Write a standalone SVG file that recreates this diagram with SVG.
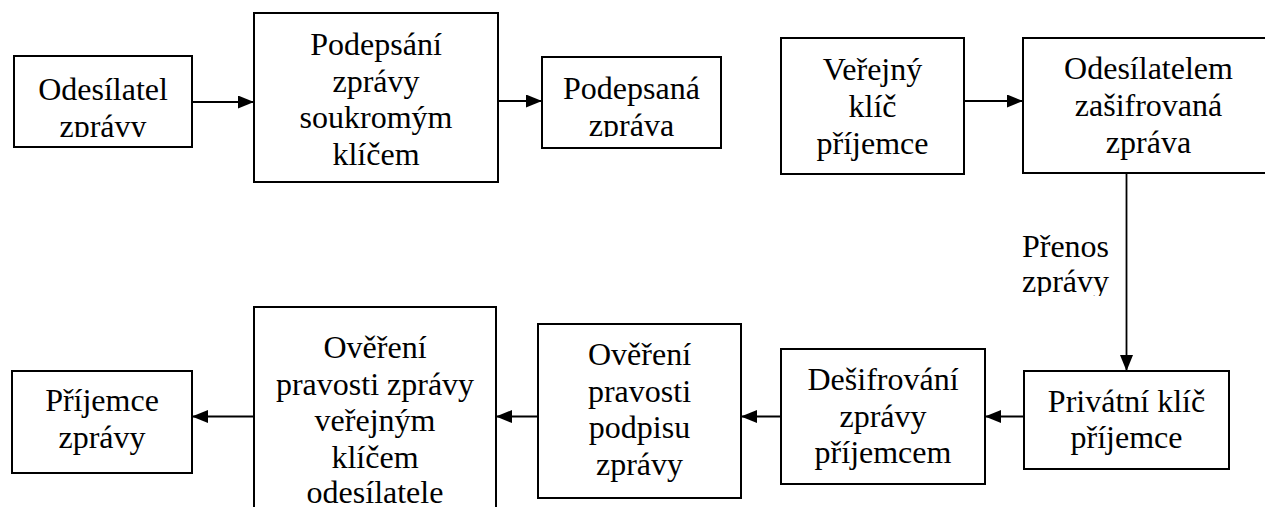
<svg xmlns="http://www.w3.org/2000/svg" width="1265" height="507" viewBox="0 0 1265 507">
<style>
.box{fill:#fff;stroke:#000;stroke-width:2}
.c{fill:none;stroke:#000;stroke-width:1.8}
</style>
<defs>
<marker id="ah" markerUnits="userSpaceOnUse" markerWidth="17" markerHeight="14" refX="16" refY="6.5" orient="auto">
<path d="M0,0 L16,6.5 L0,13 Z" fill="#000"/>
</marker>
<clipPath id="clip1"><rect x="14" y="56" width="178" height="81"/></clipPath>
<clipPath id="clip3"><rect x="542" y="57" width="179" height="80"/></clipPath>
<clipPath id="clipL"><rect x="1000" y="200" width="120" height="96"/></clipPath>
</defs>
<rect width="1265" height="507" fill="#fff"/>
<g font-family="Liberation Serif, Times New Roman, DejaVu Serif, serif" font-size="32" fill="#000" text-anchor="middle">
<g id="connectors">
<line class="c" x1="192" y1="102" x2="254" y2="102" marker-end="url(#ah)"/>
<line class="c" x1="498" y1="101" x2="542" y2="101" marker-end="url(#ah)"/>
<line class="c" x1="964" y1="101" x2="1023" y2="101" marker-end="url(#ah)"/>
<line class="c" x1="1126.5" y1="173" x2="1126.5" y2="371" marker-end="url(#ah)"/>
<line class="c" x1="1024" y1="416.5" x2="985" y2="416.5" marker-end="url(#ah)"/>
<line class="c" x1="781" y1="416.5" x2="741" y2="416.5" marker-end="url(#ah)"/>
<line class="c" x1="538" y1="416.5" x2="496" y2="416.5" marker-end="url(#ah)"/>
<line class="c" x1="254" y1="416.5" x2="192" y2="416.5" marker-end="url(#ah)"/>
<g clip-path="url(#clipL)">
<text x="1065.5" y="256.7">Přenos</text>
<text x="1065.5" y="291.5">zprávy</text>
</g>
</g>
<g id="n1">
<rect class="box" x="14" y="56" width="178" height="91"/>
<g clip-path="url(#clip1)">
<text x="103" y="100">Odesílatel</text>
<text x="103" y="136.7">zprávy</text>
</g>
</g>
<g id="n2">
<rect class="box" x="254" y="13" width="244" height="169"/>
<text x="376" y="55">Podepsání</text>
<text x="376" y="91.7">zprávy</text>
<text x="376" y="128.3">soukromým</text>
<text x="376" y="165">klíčem</text>
</g>
<g id="n3">
<rect class="box" x="542" y="57" width="179" height="91"/>
<g clip-path="url(#clip3)">
<text x="631.5" y="99">Podepsaná</text>
<text x="631.5" y="135.7">zpráva</text>
</g>
</g>
<g id="n4">
<rect class="box" x="781" y="38" width="183" height="136"/>
<text x="872.5" y="79.5">Veřejný</text>
<text x="872.5" y="116.5">klíč</text>
<text x="872.5" y="153.5">příjemce</text>
</g>
<g id="n5">
<rect class="box" x="1023" y="38" width="252" height="135"/>
<text x="1148.5" y="79">Odesílatelem</text>
<text x="1148.5" y="116">zašifrovaná</text>
<text x="1148.5" y="153">zpráva</text>
</g>
<g id="n6">
<rect class="box" x="1024" y="371" width="205" height="98"/>
<text x="1126.5" y="411.7">Privátní klíč</text>
<text x="1126.5" y="448.3">příjemce</text>
</g>
<g id="n7">
<rect class="box" x="781" y="349" width="204" height="135"/>
<text x="883" y="389.8">Dešifrování</text>
<text x="883" y="426.5">zprávy</text>
<text x="883" y="463.2">příjemcem</text>
</g>
<g id="n8">
<rect class="box" x="538" y="324" width="203" height="174"/>
<text x="639.5" y="365">Ověření</text>
<text x="639.5" y="401.7">pravosti</text>
<text x="639.5" y="438.3">podpisu</text>
<text x="639.5" y="475">zprávy</text>
</g>
<g id="n9">
<rect class="box" x="254" y="307" width="242" height="220"/>
<text x="375" y="358">Ověření</text>
<text x="375" y="394.5">pravosti zprávy</text>
<text x="375" y="431">veřejným</text>
<text x="375" y="467.5">klíčem</text>
<text x="375" y="503">odesílatele</text>
</g>
<g id="n10">
<rect class="box" x="12" y="371" width="180" height="102"/>
<text x="102" y="411">Příjemce</text>
<text x="102" y="447.7">zprávy</text>
</g>
</g>
</svg>
